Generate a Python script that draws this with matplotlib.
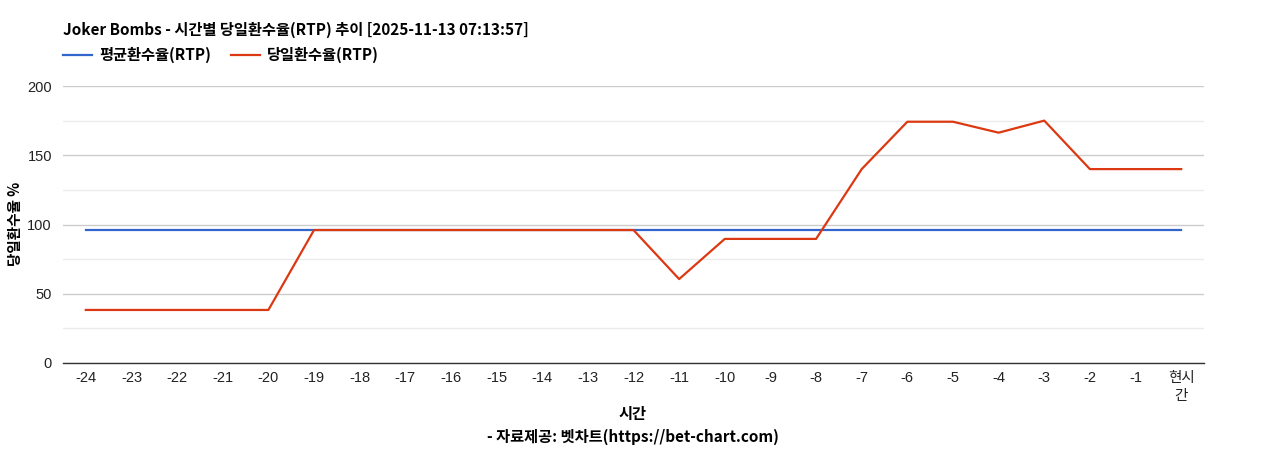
import matplotlib
matplotlib.use("Agg")
import matplotlib.pyplot as plt
from matplotlib.ticker import MultipleLocator

plt.rcParams['font.family'] = ['Liberation Sans', 'Noto Sans CJK KR', 'DejaVu Sans']

categories = ['-24', '-23', '-22', '-21', '-20', '-19', '-18', '-17', '-16', '-15', '-14', '-13',
              '-12', '-11', '-10', '-9', '-8', '-7', '-6', '-5', '-4', '-3', '-2', '-1', '현시\n간']
avg_rtp = [96.0] * 25
day_rtp = [38.3, 38.3, 38.3, 38.3, 38.3, 96.0, 96.0, 96.0, 96.0, 96.0, 96.0, 96.0,
           96.0, 60.6, 89.6, 89.6, 89.6, 140.0, 174.2, 174.2, 166.3, 175.0, 140.0, 140.0, 140.0]
y_ticks = [0, 50, 100, 150, 200]

title = 'Joker Bombs - 시간별 당일환수율(RTP) 추이 [2025-11-13 07:13:57]'
avg_label = '평균환수율(RTP)'
day_label = '당일환수율(RTP)'
y_label = '당일환수율 %'
x_label = '시간'
source = '- 자료제공: 벳차트(https://bet-chart.com)'

fig = plt.figure(figsize=(12.68, 4.5), dpi=100)
ax = fig.add_axes([63 / 1268, (450 - 363) / 450, (1204 - 63) / 1268, (363 - 86) / 450])

x = list(range(len(categories)))
l1, = ax.plot(x, avg_rtp, color='#3366cc', lw=1.6, label=avg_label)
l2, = ax.plot(x, day_rtp, color='#dc3912', lw=1.6, label=day_label)

ax.set_xlim(-0.5, len(categories) - 0.5)
ax.set_ylim(0, 200)
ax.set_yticks(y_ticks)
ax.yaxis.set_minor_locator(MultipleLocator(25))
ax.grid(axis='y', which='major', color='#cccccc', lw=1)
ax.grid(axis='y', which='minor', color='#ebebeb', lw=1)
ax.set_axisbelow(True)
ax.set_xticks(x)
ax.set_xticklabels(categories, fontsize=10.5, color='#222222', linespacing=1.3, va='top')
ax.tick_params(axis='y', labelsize=10.5, labelcolor='#222222', length=0, pad=8)
ax.tick_params(axis='y', which='minor', length=0)
ax.tick_params(axis='x', length=0, pad=6)
for s in ['top', 'right', 'left']:
    ax.spines[s].set_visible(False)
ax.spines['bottom'].set_color('#333333')
ax.spines['bottom'].set_linewidth(1)

kfam = ['Noto Sans CJK KR', 'DejaVu Sans']
fig.text(63 / 1268, 1 - 30 / 450, title, fontsize=11, fontweight='bold',
         family=kfam, va='center', ha='left')
leg = fig.legend(handles=[l1, l2], loc='center left', bbox_to_anchor=(63 / 1268, 1 - 55 / 450),
                 ncol=2, frameon=False, handlelength=1.9, handletextpad=0.5, columnspacing=1.25,
                 borderpad=0, borderaxespad=0,
                 prop={'family': kfam, 'weight': 'bold', 'size': 11})
fig.text(15 / 1268, 1 - 224 / 450, y_label, rotation=90, fontsize=10.5, fontweight='bold',
         family=kfam, va='center', ha='center')
fig.text(633 / 1268, 1 - 414 / 450, x_label, fontsize=11, fontweight='bold',
         family=kfam, va='center', ha='center')
fig.text(633 / 1268, 1 - 437 / 450, source, fontsize=11, fontweight='bold',
         family=kfam, va='center', ha='center')

fig.savefig('out.png', dpi=100)
